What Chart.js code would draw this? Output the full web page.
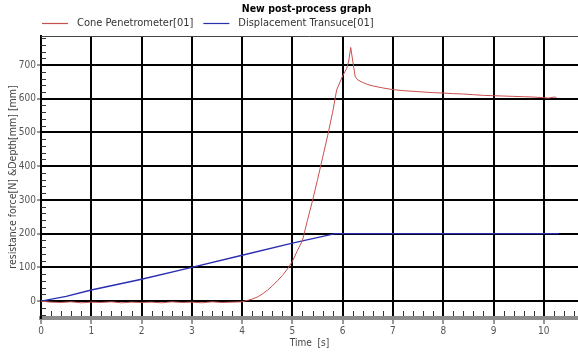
<!DOCTYPE html>
<html>
<head>
<meta charset="utf-8">
<script src="https://cdn.jsdelivr.net/npm/chart.js@4.4.0/dist/chart.umd.min.js"></script>
<style>
  html, body { margin: 0; padding: 0; background: #fff; }
</style>
</head>
<body>
<canvas id="graph" width="578" height="353"></canvas>
<script>
// Chart text
const chartTitle = 'New post-process graph';
const seriesNames = ['Cone Penetrometer[01]', 'Displacement Transuce[01]'];
const xTitle = 'Time  [s]';
const yTitle = 'resistance force[N] &Depth[mm] [mm]';

// Cone penetrometer: resistance force over time
const coneTime = [0, 0.2, 0.4, 0.6, 0.8, 1.0, 1.2, 1.4, 1.6, 1.8, 2.0, 2.2, 2.4, 2.6, 2.8, 3.0, 3.2, 3.4, 3.6, 3.8, 4.0,
  4.1, 4.2, 4.3, 4.4, 4.5, 4.6, 4.7, 4.8, 4.9, 5.0, 5.1, 5.2, 5.3, 5.4, 5.5, 5.6, 5.7, 5.8, 5.88, 6.0, 6.08, 6.12,
  6.16, 6.2, 6.25, 6.3, 6.4, 6.5, 6.6, 6.8, 7.0, 7.2, 7.4, 7.6, 7.8, 8.0, 8.2, 8.4, 8.6, 8.8, 9.0, 9.2, 9.4, 9.6,
  9.8, 10.0, 10.1, 10.2, 10.25];
const coneForce = [0, -3, -4, -2, -5, -3, -4, -2, -5, -3, -4, -3, -5, -2, -4, -3, -5, -2, -4, -3, -2,
  2, 6, 12, 21, 32, 45, 60, 76, 95, 118, 150, 180, 240, 298, 360, 425, 490, 560, 626, 668, 690, 712,
  752, 712, 665, 656, 648, 642, 638, 632, 627, 624, 622, 620, 618, 617, 615, 614, 612, 610, 609, 608, 607, 606,
  605, 603, 602, 605, 604];

// Displacement transducer: depth over time
const dispTime = [0, 0.5, 1, 2, 3, 4, 5, 5.85, 10.3];
const dispDepth = [0, 14, 33, 65, 100, 136, 172, 200, 200];

// Axis ticks
const xTicks = [0, 1, 2, 3, 4, 5, 6, 7, 8, 9, 10];
const yTicks = [0, 100, 200, 300, 400, 500, 600, 700];

const tickFont = { family: '"DejaVu Sans Condensed", "DejaVu Sans", sans-serif', size: 10 };
const yTitleFont = { family: '"DejaVu Sans Condensed", "DejaVu Sans", sans-serif', size: 10.5 };

const toPoints = (xs, ys) => xs.map((x, i) => ({ x: x, y: ys[i] }));

// minor ticks, top border, title and legend
const decorations = {
  id: 'decorations',
  afterDraw(chart) {
    const { ctx, chartArea } = chart;
    const xs = chart.scales.x, ys = chart.scales.y;
    ctx.save();
    // top border
    ctx.strokeStyle = '#444';
    ctx.lineWidth = 1;
    ctx.beginPath();
    ctx.moveTo(chartArea.left, chartArea.top + 0.5);
    ctx.lineTo(chartArea.right, chartArea.top + 0.5);
    ctx.stroke();

    // minor ticks
    ctx.strokeStyle = '#333';
    ctx.beginPath();
    for (let i = -2; i * 20 < ys.max; i++) {
      if (i % 5 === 0) continue;
      const py = Math.round(ys.getPixelForValue(i * 20)) + 0.5;
      ctx.moveTo(chartArea.left, py);
      ctx.lineTo(chartArea.left + 5, py);
    }
    for (let i = 1; i * 0.2 < xs.max; i++) {
      if (i % 5 === 0) continue;
      const px = Math.round(xs.getPixelForValue(i * 0.2)) + 0.5;
      ctx.moveTo(px, chartArea.bottom - 2);
      ctx.lineTo(px, chartArea.bottom - 7);
    }
    ctx.stroke();

    // title
    ctx.fillStyle = '#000';
    ctx.font = 'bold 10.5px "DejaVu Sans Condensed", "DejaVu Sans", sans-serif';
    ctx.textAlign = 'center';
    ctx.textBaseline = 'middle';
    ctx.fillText(chartTitle, (chartArea.left + chartArea.right) / 2 - 3, 9);

    // legend
    ctx.font = '11px "DejaVu Sans Condensed", "DejaVu Sans", sans-serif';
    ctx.textAlign = 'left';
    let lx = 42;
    chart.data.datasets.forEach(ds => {
      ctx.strokeStyle = ds.borderColor;
      ctx.lineWidth = 1.2;
      ctx.beginPath();
      ctx.moveTo(lx, 23.5);
      ctx.lineTo(lx + 26, 23.5);
      ctx.stroke();
      ctx.fillStyle = '#333';
      ctx.fillText(ds.label, lx + 35, 23);
      lx += 35 + ctx.measureText(ds.label).width + 10;
    });
    ctx.restore();
  }
};

const chart = new Chart(document.getElementById('graph'), {
  type: 'line',
  data: {
    datasets: [{
      label: seriesNames[0],
      data: toPoints(coneTime, coneForce),
      borderColor: '#c8504e',
      borderWidth: 1,
      pointRadius: 0,
      tension: 0
    }, {
      label: seriesNames[1],
      data: toPoints(dispTime, dispDepth),
      borderColor: '#2a2eb0',
      borderWidth: 1.4,
      pointRadius: 0,
      tension: 0
    }]
  },
  options: {
    responsive: false,
    animation: false,
    layout: { padding: { top: 36, right: 0, bottom: 0, left: 0 } },
    plugins: {
      legend: { display: false },
      title: { display: false },
      tooltip: { enabled: false }
    },
    scales: {
      x: {
        type: 'linear',
        min: 0,
        max: 10.68,
        afterBuildTicks: s => { s.ticks = xTicks.map(v => ({ value: v })); },
        afterFit: s => { s.height = 35; },
        grid: { color: '#000', lineWidth: 2, tickLength: 6, tickColor: '#333', tickWidth: 1 },
        border: { color: '#8c8c8c', width: 4 },
        ticks: { font: tickFont, color: '#555', padding: 1, maxRotation: 0 },
        title: { display: true, text: xTitle, font: tickFont, color: '#444', padding: { top: 0, bottom: 4 } }
      },
      y: {
        min: -50,
        max: 786,
        afterBuildTicks: s => { s.ticks = yTicks.map(v => ({ value: v })); },
        afterFit: s => { s.width = 41; },
        grid: { color: '#000', lineWidth: 2, tickLength: 4, tickColor: '#333', tickWidth: 1 },
        border: { color: '#000', width: 2 },
        ticks: { font: tickFont, color: '#555', padding: 1 },
        title: { display: true, text: yTitle, font: yTitleFont, color: '#444', padding: { top: 7, bottom: 0 } }
      }
    }
  },
  plugins: [decorations]
});
</script>
</body>
</html>
